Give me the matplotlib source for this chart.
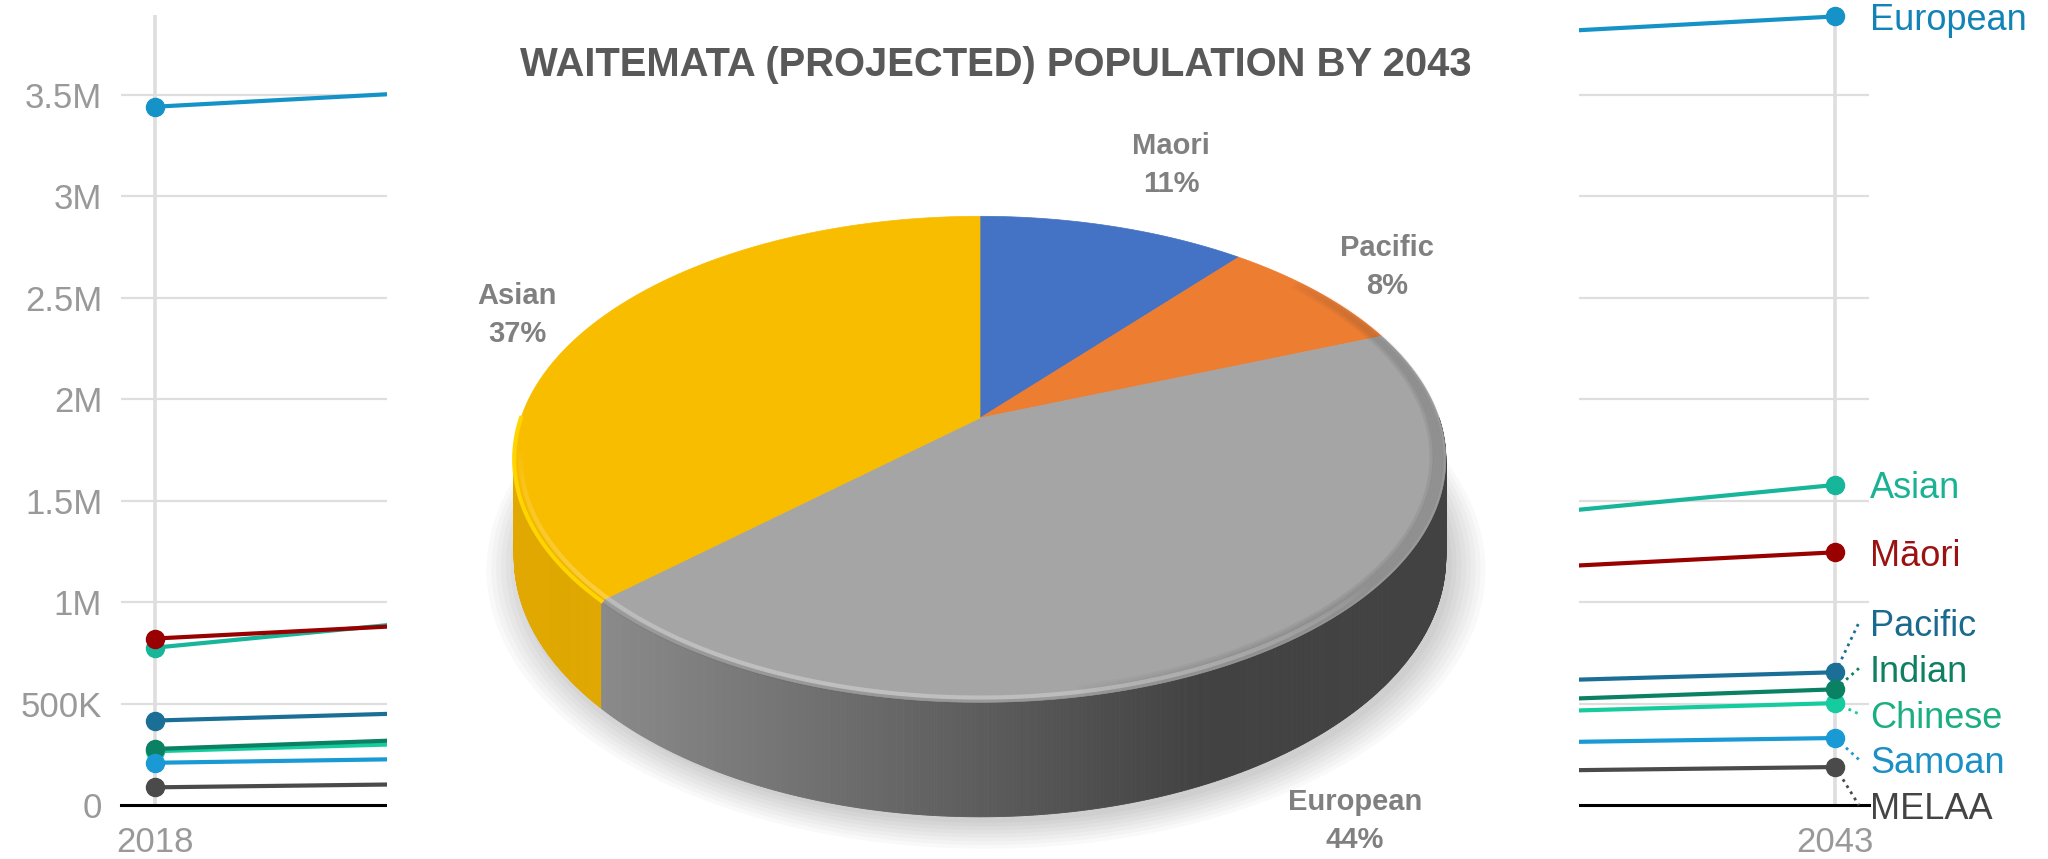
import numpy as np
import matplotlib

matplotlib.use("Agg")
import matplotlib.pyplot as plt
import matplotlib.transforms as mtransforms
from matplotlib.collections import LineCollection, PolyCollection
from matplotlib.patches import Polygon

# Canvas size in pixels
W, H = 2048, 859
DPI = 100

# Projected population per ethnic group (slope chart in the background)
years = [2018, 2043]
groups = ["European", "Asian", "Māori", "Pacific", "Chinese", "Indian", "Samoan", "MELAA"]
pop_2018 = [3.44e6, 0.775e6, 0.82e6, 0.416e6, 0.265e6, 0.276e6, 0.208e6, 0.087e6]
pop_2043 = [3.885e6, 1.577e6, 1.245e6, 0.654e6, 0.502e6, 0.570e6, 0.330e6, 0.187e6]

y_ticks = [0, 0.5e6, 1e6, 1.5e6, 2e6, 2.5e6, 3e6, 3.5e6]
y_tick_labels = ["0", "500K", "1M", "1.5M", "2M", "2.5M", "3M", "3.5M"]

# Waitemata share by 2043 (pie in front)
title = "WAITEMATA (PROJECTED) POPULATION BY 2043"
pie_groups = ["Maori", "Pacific", "European", "Asian"]
pie_shares = [11, 8, 44, 37]

# Styles
LINE_COLORS = {
    "European": "#1592c8",
    "Asian": "#17b59a",
    "Māori": "#990000",
    "Pacific": "#1b6f96",
    "Chinese": "#16cc9e",
    "Indian": "#0b8163",
    "Samoan": "#1a9ad4",
    "MELAA": "#4a4a4a",
}
LABEL_COLORS = {
    "European": "#1283b6",
    "Asian": "#19b394",
    "Māori": "#9b1212",
    "Pacific": "#1a6a8f",
    "Chinese": "#1aae80",
    "Indian": "#0f7f62",
    "Samoan": "#1b90c4",
    "MELAA": "#444444",
}
PIE_COLORS = {
    "Maori": "#4472c4",
    "Pacific": "#ed7d31",
    "European": "#a5a5a5",
    "Asian": "#f9bd00",
}
ASIAN_SIDE = "#e0a800"
EURO_SIDE_LIGHT = np.array([0x8a, 0x8a, 0x8a]) / 255
EURO_SIDE_DARK = np.array([0x42, 0x42, 0x42]) / 255

# Pie label positions (pixels, y down)
PIE_LABEL_POS = {
    "Maori": (1171, 165),
    "Pacific": (1387, 267),
    "Asian": (517, 315),
    "European": (1355, 821),
}

plt.rcParams["font.family"] = ["Liberation Sans", "DejaVu Sans"]


def px_axes(fig, left, top, right, bottom):
    """Add an axes placed by pixel edges (y measured from the top)."""
    return fig.add_axes([left / W, 1 - bottom / H, (right - left) / W, (bottom - top) / H])


def spread(values, gap, iters=400):
    """Push label positions apart so neighbours are at least `gap` apart."""
    order = np.argsort(values)
    pos = np.asarray(values, float)[order].copy()
    for _ in range(iters):
        for j in range(1, len(pos)):
            d = pos[j] - pos[j - 1]
            if d < gap:
                shift = (gap - d) / 2
                pos[j] += shift
                pos[j - 1] -= shift
    out = np.empty_like(pos)
    out[order] = pos
    return out


def draw_lines(fig):
    ax = px_axes(fig, 121, 15, 1869, 805)
    ax.set_xlim(2017.5, 2043.5)
    ax.set_ylim(0, 3.892e6)
    for side in ["left", "right", "top"]:
        ax.spines[side].set_visible(False)
    ax.spines["bottom"].set_color("black")
    ax.spines["bottom"].set_linewidth(2.2)
    ax.spines["bottom"].set_zorder(1)

    ax.set_yticks(y_ticks, y_tick_labels)
    ax.set_xticks(years, [str(y) for y in years])
    ax.tick_params(length=0, labelsize=25, labelcolor="#999999")
    ax.tick_params(axis="y", pad=13.5)
    ax.tick_params(axis="x", pad=15)

    for v in y_ticks[1:]:
        ax.axhline(v, color="#dedede", lw=1.6, zorder=0)
    for yr in years:
        ax.axvline(yr, color="#dedede", lw=2.6, zorder=0)

    for i, g in enumerate(groups):
        ax.plot(years, [pop_2018[i], pop_2043[i]], color=LINE_COLORS[g], lw=3,
                marker="o", ms=13, zorder=3 + i, clip_on=False)

    # End labels, spaced out with dotted leaders where they had to move
    label_y = spread(pop_2043, 0.225e6)
    trans = mtransforms.blended_transform_factory(ax.transAxes, ax.transData)
    for i, g in enumerate(groups):
        ax.text(1.0006, label_y[i] - 0.02e6, g, transform=trans, ha="left", va="center",
                fontsize=26, color=LABEL_COLORS[g], clip_on=False)
        if abs(label_y[i] - pop_2043[i]) > 0.03e6:
            ax.plot([years[1], years[1] + 0.35], [pop_2043[i], label_y[i]],
                    ls=(0, (1, 1.6)), lw=2, color=LINE_COLORS[g], zorder=2, clip_on=False)
    return ax


# Pie geometry in pixels: centre, radius, vertical squash, perspective, thickness
CX, CY, R, B, K, DEPTH = 980, 418, 459, 236, 0.17, 95


def project(theta, drop=0.0, scale=1.0):
    u = scale * np.cos(theta)
    w = scale * np.sin(theta)
    den = 1 + K * w
    return CX + R * u / den, CY - B * w / den + drop / den


def slice_of(theta_deg, bounds):
    c = (90 - theta_deg) % 360
    return min(np.searchsorted(bounds, c, side="right") - 1, len(pie_groups) - 1)


def rim_stroke(pax, deg_from, deg_to, scale, color, alpha, lw, fade=True):
    """Stroke along the rim, alpha tapering to zero at both ends."""
    t = np.radians(np.linspace(deg_from, deg_to, 240))
    xs, ys = project(t, scale=scale)
    pts = np.column_stack([xs, ys])
    segs = np.stack([pts[:-1], pts[1:]], axis=1)
    s = np.linspace(0, 1, len(segs))
    a = alpha * (np.sin(np.pi * s) ** 0.6 if fade else np.ones_like(s))
    rgba = np.tile(matplotlib.colors.to_rgba(color), (len(segs), 1))
    rgba[:, 3] = a
    pax.add_collection(LineCollection(segs, colors=rgba, linewidths=lw, capstyle="butt"))


def draw_pie(fig):
    pax = px_axes(fig, 387, 0, 1579, 859)
    pax.set_xlim(387, 1579)
    pax.set_ylim(859, 0)
    pax.set_xticks([])
    pax.set_yticks([])
    for s in pax.spines.values():
        s.set_visible(False)
    pax.set_facecolor("white")

    bounds = np.concatenate([[0], np.cumsum(pie_shares)]) / sum(pie_shares) * 360

    # soft drop shadow under the disc
    ring = np.radians(np.linspace(0, 360, 400))
    for s in np.linspace(1.07, 1.0, 8):
        xs, ys = project(ring, drop=DEPTH, scale=s)
        pax.add_patch(Polygon(np.column_stack([xs + 6, ys + 6]), closed=True,
                              facecolor="#000000", alpha=0.022, lw=0))

    # side wall, front half only
    th = np.linspace(-180, 0, 721)
    quads, colors = [], []
    for t0, t1 in zip(th[:-1], th[1:]):
        a0, a1 = np.radians(t0), np.radians(t1)
        x0, y0 = project(a0)
        x1, y1 = project(a1)
        bx0, by0 = project(a0, drop=DEPTH)
        bx1, by1 = project(a1, drop=DEPTH)
        quads.append([(x0, y0), (x1, y1), (bx1, by1), (bx0, by0)])
        name = pie_groups[slice_of((t0 + t1) / 2, bounds)]
        if name == "European":
            f = np.clip(((x0 + x1) / 2 - 603) / (1200 - 603), 0, 1)
            colors.append(tuple(EURO_SIDE_LIGHT * (1 - f) + EURO_SIDE_DARK * f))
        elif name == "Asian":
            colors.append(ASIAN_SIDE)
        else:
            colors.append(PIE_COLORS[name])
    pax.add_collection(PolyCollection(quads, facecolors=colors, edgecolors=colors, linewidths=0.6))

    # top face
    for i, name in enumerate(pie_groups):
        t = np.radians(np.linspace(90 - bounds[i], 90 - bounds[i + 1], 200))
        xs, ys = project(t)
        pts = np.column_stack([np.r_[CX, xs], np.r_[CY, ys]])
        pax.add_patch(Polygon(pts, closed=True, facecolor=PIE_COLORS[name],
                              edgecolor=PIE_COLORS[name], lw=0.5))

    # rounded rim: soft darkening on the right, light bevel along the front
    for sc in [0.996, 0.99, 0.984, 0.978, 0.972]:
        rim_stroke(pax, -80, 40, sc, "#3a3a3a", 0.10, 4)
    rim_stroke(pax, -172, -40, 0.986, "white", 0.30, 3)
    rim_stroke(pax, -172, -40, 0.998, "#555555", 0.15, 3)
    t = np.radians(np.linspace(-136.8, -180, 120))
    xs, ys = project(t)
    pax.plot(xs, ys, color="#ffd400", lw=3)

    pax.text(996, 65, title, ha="center", va="center", fontsize=28.8,
             fontweight="bold", color="#595959")
    for name, share in zip(pie_groups, pie_shares):
        x, y = PIE_LABEL_POS[name]
        pax.text(x, y, f"{name}\n{share}%", ha="center", va="center", fontsize=21,
                 fontweight="bold", color="#808080", linespacing=1.5)
    return pax


def main():
    fig = plt.figure(figsize=(W / DPI, H / DPI), dpi=DPI)
    fig.patch.set_facecolor("white")
    draw_lines(fig)
    draw_pie(fig)
    fig.savefig("out.png", dpi=DPI, facecolor="white")
    plt.close(fig)


if __name__ == "__main__":
    main()
